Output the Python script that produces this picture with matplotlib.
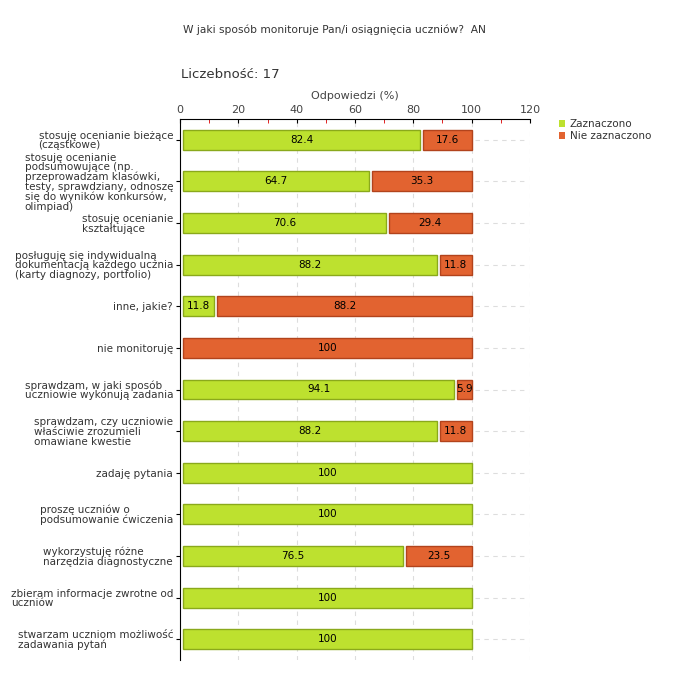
import matplotlib
matplotlib.use("Agg")
import matplotlib.pyplot as plt
from matplotlib.patches import Patch
import numpy as np

plt.rcParams['font.family'] = ['DejaVu Sans']

labels = [
    "stosuję ocenianie bieżące\n(cząstkowe)",
    "stosuję ocenianie\npodsumowujące (np.\nprzeprowadzam klasówki,\ntesty, sprawdziany, odnoszę\nsię do wyników konkursów,\nolimpiad)",
    "stosuję ocenianie\nkształtujące",
    "posługuję się indywidualną\ndokumentacją każdego ucznia\n(karty diagnozy, portfolio)",
    "inne, jakie?",
    "nie monitoruję",
    "sprawdzam, w jaki sposób\nuczniowie wykonują zadania",
    "sprawdzam, czy uczniowie\nwłaściwie zrozumieli\nomawiane kwestie",
    "zadaję pytania",
    "proszę uczniów o\npodsumowanie ćwiczenia",
    "wykorzystuję różne\nnarzędzia diagnostyczne",
    "zbieram informacje zwrotne od\nuczniów",
    "stwarzam uczniom możliwość\nzadawania pytań",
]
zaznaczono = [82.4, 64.7, 70.6, 88.2, 11.8, 0, 94.1, 88.2, 100, 100, 76.5, 100, 100]
nie_zaznaczono = [17.6, 35.3, 29.4, 11.8, 88.2, 100, 5.9, 11.8, 0, 0, 23.5, 0, 0]

green, green_edge = "#bde12f", "#8aa91b"
red, red_edge = "#e26330", "#b2431c"
gap = 1.0

fig = plt.figure(figsize=(6.8, 6.8), dpi=100)
ax = fig.add_axes([180 / 680, 1 - 660 / 680, 350 / 680, 541 / 680])

y = np.arange(len(labels))
for i in y:
    z, n = zaznaczono[i], nie_zaznaczono[i]
    if z > 0:
        ax.barh(i, z - gap, left=gap, height=0.48, color=green,
                edgecolor=green_edge, linewidth=1, zorder=3)
        ax.text(gap + (z - gap) / 2, i, f"{z:g}", ha="center", va="center",
                fontsize=7.5, color="black", zorder=4)
    if n > 0:
        start = z + gap
        ax.barh(i, 100 - start, left=start, height=0.48, color=red,
                edgecolor=red_edge, linewidth=1, zorder=3)
        ax.text(start + (100 - start) / 2, i, f"{n:g}", ha="center", va="center",
                fontsize=7.5, color="black", zorder=4)

ax.set_xlim(0, 120)
ax.set_ylim(len(labels) - 0.5, -0.5)
ax.xaxis.tick_top()
ax.xaxis.set_label_position("top")
ax.set_xticks(np.arange(0, 121, 20))
ax.set_xticks(np.arange(10, 120, 20), minor=True)
ax.tick_params(axis="x", which="major", length=3, direction="in",
               labelsize=8, labelcolor="#444444", pad=3)
ax.tick_params(axis="x", which="minor", length=3, direction="in", color="#dd0000")
ax.set_xlabel("Odpowiedzi (%)", fontsize=8, color="#444444", labelpad=4)

ax.set_yticks(y)
ax.set_yticklabels(labels, fontsize=7.5, color="#333333", linespacing=0.95,
                   multialignment="left")
ax.tick_params(axis="y", length=3, pad=2)

for x in np.arange(20, 121, 20):
    ax.axvline(x, color="#dddddd", linestyle=(0, (4, 4)), linewidth=0.8, zorder=1)
ax.hlines(y, 101, 119, color="#dddddd", linestyle=(0, (4, 4)), linewidth=0.8, zorder=1)

for s in ["right", "bottom"]:
    ax.spines[s].set_visible(False)
ax.spines["left"].set_color("black")
ax.spines["top"].set_color("black")

fig.text(183 / 680, 1 - 30 / 680, "W jaki sposób monitoruje Pan/i osiągnięcia uczniów?  AN",
         fontsize=7.7, color="#333333", va="center")
fig.text(181 / 680, 1 - 75 / 680, "Liczebność: 17", fontsize=9.5, color="#333333",
         va="center")

handles = [Patch(facecolor=green, edgecolor="none"), Patch(facecolor=red, edgecolor="none")]
fig.legend(handles, ["Zaznaczono", "Nie zaznaczono"], loc="upper left",
           bbox_to_anchor=(555 / 680, 1 - 115 / 680), frameon=False, fontsize=7.5,
           handlelength=0.6, handleheight=0.6, handletextpad=0.4, labelspacing=0.2,
           borderaxespad=0, labelcolor="#333333")

fig.savefig("out.png", dpi=100)
